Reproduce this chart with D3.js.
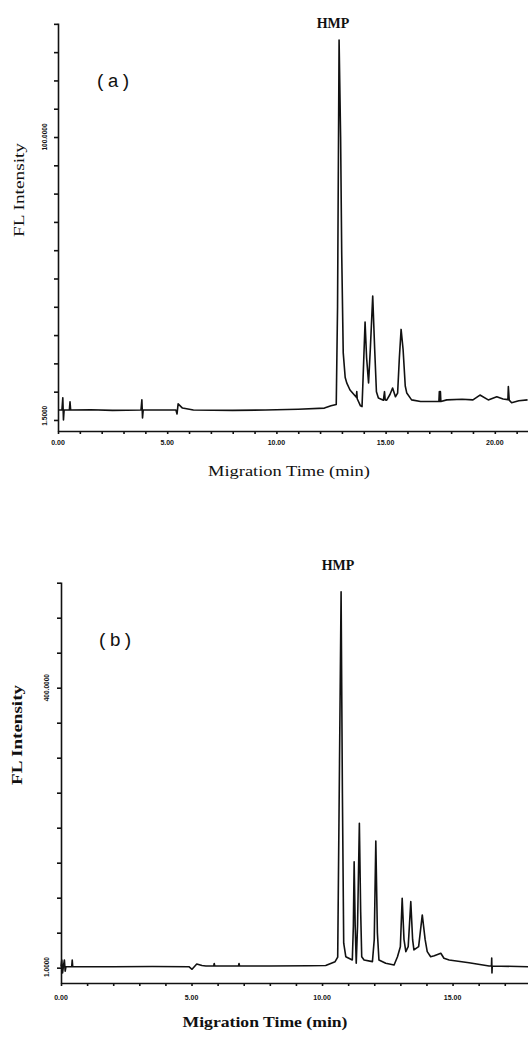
<!DOCTYPE html>
<html>
<head>
<meta charset="utf-8">
<script src="https://cdn.jsdelivr.net/npm/d3@7"></script>
<style>
  body { margin: 0; background: #fff; }
  svg { display: block; }
  .trace { fill: none; stroke: #111; stroke-width: 1.6; stroke-linejoin: round; }
  .axis path, .axis line { stroke: #111; stroke-width: 1.6; }
  .tick-label { font-family: "Liberation Sans", sans-serif; font-weight: bold; fill: #111; }
  .serif { font-family: "Liberation Serif", serif; fill: #111; }
  .mono { font-family: "Liberation Mono", monospace; fill: #111; }
</style>
</head>
<body>
<script>
// ---- panel (a) data: migration time (min) vs FL intensity
var timeA = [0.00, 0.18, 0.22, 0.25, 0.28, 0.52, 0.55, 0.58, 1.5, 2.5, 3.80, 3.84, 3.87, 3.90,
  5.40, 5.45, 5.50, 5.70, 6.20, 8.0, 9.5, 11.0, 12.2, 12.5, 12.74, 12.80, 12.87, 12.94, 12.99,
  13.06, 13.15, 13.22, 13.37, 13.55, 13.66, 13.68, 13.70, 13.85, 13.92, 13.97, 14.06, 14.13,
  14.22, 14.30, 14.41, 14.50, 14.58, 14.67, 14.90, 14.95, 14.98, 15.05, 15.20, 15.32, 15.45,
  15.55, 15.63, 15.71, 15.80, 15.90, 15.97, 16.19, 16.6, 17.34, 17.44, 17.46, 17.48, 17.51,
  17.53, 17.8, 18.5, 19.0, 19.32, 19.70, 20.09, 20.38, 20.60, 20.62, 20.66, 20.77, 21.1, 21.5];
var fluorA = [3.5, 3.5, 7.8, 0.0, 3.5, 3.5, 6.4, 3.5, 3.6, 3.4, 3.5, 7.1, 0.7, 3.5,
  3.5, 2.1, 5.7, 4.2, 3.5, 3.4, 3.5, 3.8, 4.2, 5.0, 5.5, 40, 134.3, 100, 59,
  23.7, 15, 13.1, 10.6, 9.0, 8.0, 10.0, 7.5, 5.0, 4.7, 15, 34.6, 22,
  13.1, 25, 43.8, 25, 10, 7.8, 7.0, 10.0, 7.1, 7.0, 9.0, 11.3, 8.2,
  9.5, 22, 32.0, 25, 12, 9.5, 7.1, 6.5, 6.5, 6.5, 10.0, 6.5, 10.0,
  6.5, 7.1, 7.3, 7.1, 8.8, 7.1, 8.2, 7.4, 7.2, 11.8, 7.0, 6.1, 6.8, 7.1];

// ---- panel (b) data
var timeB = [0.00, 0.03, 0.06, 0.09, 0.13, 0.16, 0.19, 0.41, 0.43, 0.45, 2.0, 3.5, 4.9, 5.02,
  5.20, 5.40, 5.55, 5.85, 5.87, 5.89, 6.80, 6.82, 6.84, 8.0, 9.5, 10.14, 10.50, 10.60, 10.73,
  10.78, 10.83, 10.91, 11.16, 11.20, 11.23, 11.27, 11.31, 11.36, 11.43, 11.48, 11.52, 11.61,
  11.93, 12.00, 12.06, 12.12, 12.18, 12.44, 12.76, 12.89, 13.00, 13.07, 13.14, 13.21, 13.30,
  13.40, 13.47, 13.52, 13.70, 13.84, 13.95, 14.03, 14.16, 14.30, 14.55, 14.67, 14.87, 15.63,
  16.40, 16.49, 16.50, 16.51, 16.52, 17.9];
var fluorB = [1.4, 11, -7.6, 1.4, 11, -5, 1.4, 1.4, 11, 1.4, 1.4, 1.6, 1.4, -2.3,
  5.3, 3.0, 2.4, 2.4, 6, 2.4, 2.4, 6, 2.4, 2.4, 2.8, 3.0, 8.6, 15, 537,
  249, 34.9, 15.7, 11.0, 60, 151.4, 60, 6.3, 60, 206.3, 80, 15.7, 11.0,
  8.6, 40, 181, 50, 11.0, 6.3, 3.9, 15.7, 30, 99.1, 40, 22.9, 30,
  94.3, 40, 25.3, 30, 75.3, 40, 22.9, 15.7, 17, 20.6, 13.4, 11.0, 7.1,
  2.4, 2.4, 13.9, -7.6, 2.4, 1.4];

// ticks and labels
var xMinorA = d3.range(0, 22, 1);
var xMinorB = d3.range(0, 18, 1);
var xLabelValuesA = [0, 5, 10, 15, 20];
var xLabelsA = ["0.00", "5.00", "10.00", "15.00", "20.00"];
var xLabelValuesB = [0, 5, 10, 15];
var xLabelsB = ["0.00", "5.00", "10.00", "15.00"];
var yTicksA = d3.range(0, 141, 10);
var yTicksB = d3.range(0, 551, 50);
var yLabelValuesA = [1.5, 100];
var yLabelsA = ["1.5000", "100.0000"];
var yLabelValuesB = [1, 400];
var yLabelsB = ["1.0000", "400.0000"];

var svg = d3.select("body").append("svg")
  .attr("width", 528)
  .attr("height", 1045);

var panels = [
  {
    time: timeA, fluor: fluorA, xMinor: xMinorA, xLabelValues: xLabelValuesA, xLabels: xLabelsA,
    yTicks: yTicksA, yLabelValues: yLabelValuesA, yLabels: yLabelsA,
    xDomain: [0, 21.52], xRange: [58, 528], yDomain: [-3.9, 140.3], yRange: [431, 23],
    xLabelY: 445, yLabelX: 47, bold: false,
    tag: "(a)", tagPos: [95, 87], hmpPos: [333, 28],
    xTitlePos: [289, 476], xTitleLen: 162, yTitlePos: [24, 190], yTitleLen: 94
  },
  {
    time: timeB, fluor: fluorB, xMinor: xMinorB, xLabelValues: xLabelValuesB, xLabels: xLabelsB,
    yTicks: yTicksB, yLabelValues: yLabelValuesB, yLabels: yLabelsB,
    xDomain: [0, 17.89], xRange: [61, 528], yDomain: [-21.9, 551], yRange: [983, 582],
    xLabelY: 1000, yLabelX: 49, bold: true,
    tag: "(b)", tagPos: [97, 646], hmpPos: [338, 570],
    xTitlePos: [265, 1027], xTitleLen: 165, yTitlePos: [22, 735], yTitleLen: 100
  }
];

panels.forEach(function (p) {
  var x = d3.scaleLinear().domain(p.xDomain).range(p.xRange);
  var y = d3.scaleLinear().domain(p.yDomain).range(p.yRange);
  var g = svg.append("g");

  // axes
  g.append("g")
    .attr("class", "axis")
    .attr("transform", "translate(0," + p.yRange[0] + ")")
    .call(d3.axisBottom(x).tickValues(p.xMinor).tickSize(3).tickSizeOuter(0).tickFormat(""));

  g.append("g")
    .attr("class", "axis")
    .attr("transform", "translate(" + x(0) + ",0)")
    .call(d3.axisLeft(y).tickValues(p.yTicks).tickSize(4).tickSizeOuter(0).tickFormat(""));

  // tick labels
  g.selectAll(".xl")
    .data(p.xLabelValues)
    .enter().append("text")
    .attr("class", "tick-label")
    .attr("x", function (d) { return x(d); })
    .attr("y", p.xLabelY)
    .attr("text-anchor", "middle")
    .attr("font-size", 7)
    .text(function (d, i) { return p.xLabels[i]; });

  g.selectAll(".yl")
    .data(p.yLabelValues)
    .enter().append("text")
    .attr("class", "tick-label")
    .attr("transform", function (d) { return "translate(" + p.yLabelX + "," + y(d) + ") rotate(-90)"; })
    .attr("text-anchor", "middle")
    .attr("font-size", 6.5)
    .text(function (d, i) { return p.yLabels[i]; });

  // trace
  var line = d3.line()
    .x(function (d) { return x(d[0]); })
    .y(function (d) { return y(d[1]); });

  g.append("path")
    .datum(d3.zip(p.time, p.fluor))
    .attr("class", "trace")
    .attr("d", line);

  // titles
  g.append("text")
    .attr("class", "serif")
    .attr("x", p.xTitlePos[0])
    .attr("y", p.xTitlePos[1])
    .attr("text-anchor", "middle")
    .attr("font-size", 15)
    .attr("font-weight", p.bold ? "bold" : "normal")
    .attr("textLength", p.xTitleLen)
    .attr("lengthAdjust", "spacingAndGlyphs")
    .text("Migration Time (min)");

  g.append("text")
    .attr("class", "serif")
    .attr("transform", "translate(" + p.yTitlePos[0] + "," + p.yTitlePos[1] + ") rotate(-90)")
    .attr("text-anchor", "middle")
    .attr("font-size", 15)
    .attr("font-weight", p.bold ? "bold" : "normal")
    .attr("textLength", p.yTitleLen)
    .attr("lengthAdjust", "spacingAndGlyphs")
    .text("FL Intensity");

  g.append("text")
    .attr("class", "serif")
    .attr("x", p.hmpPos[0])
    .attr("y", p.hmpPos[1])
    .attr("text-anchor", "middle")
    .attr("font-size", 14)
    .attr("font-weight", "bold")
    .text("HMP");

  g.append("text")
    .attr("class", "mono")
    .attr("x", p.tagPos[0])
    .attr("y", p.tagPos[1])
    .attr("font-size", 19)
    .attr("letter-spacing", 1)
    .text(p.tag);
});
</script>
</body>
</html>
